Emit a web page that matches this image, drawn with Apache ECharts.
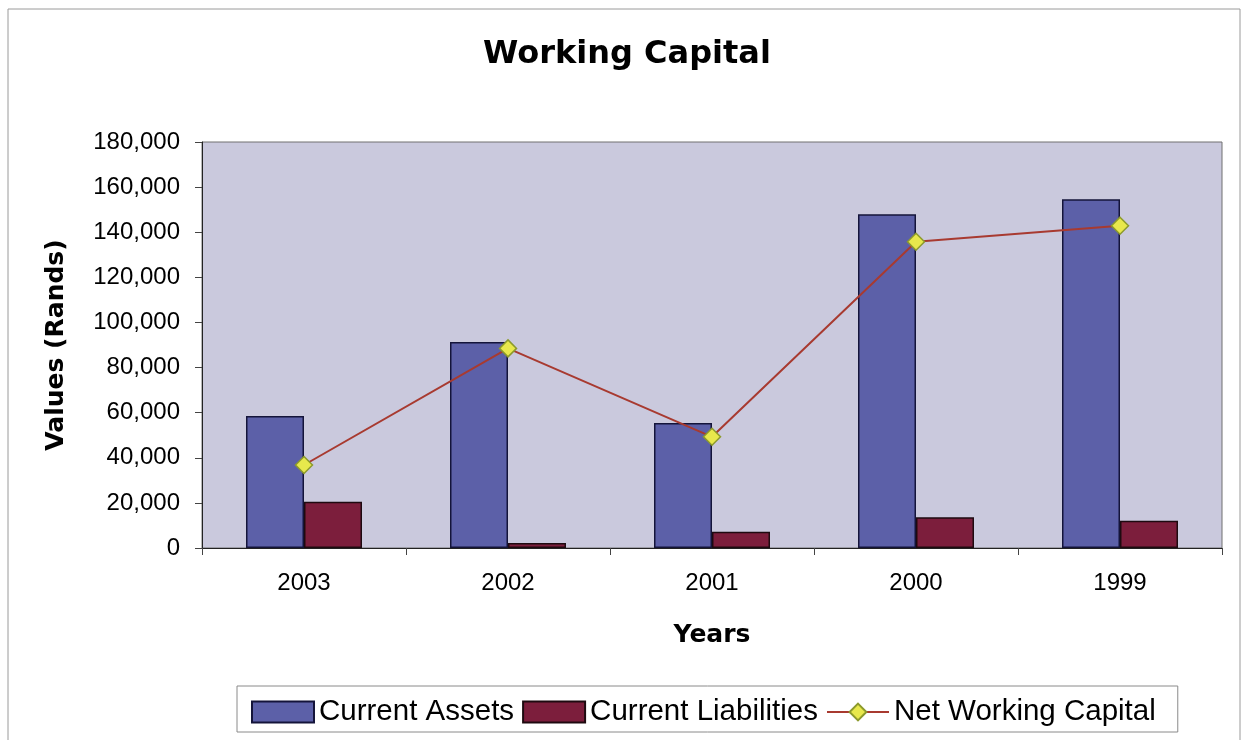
<!DOCTYPE html>
<html>
<head>
<meta charset="utf-8">
<title>Working Capital</title>
<script src="https://cdn.jsdelivr.net/npm/echarts@6/dist/echarts.min.js"></script>
<style>
  html, body { margin: 0; padding: 0; background: #ffffff; }
  #chart { width: 1246px; height: 740px; }
</style>
</head>
<body>
<div id="chart"></div>
<script>
// Financial years shown on the category axis
const years = ['2003', '2002', '2001', '2000', '1999'];

// Values in Rands
const currentAssets = [58500, 91300, 55400, 148000, 154600];
const currentLiabilities = [20500, 2200, 7200, 13600, 12100];
const netWorkingCapital = [36800, 88500, 49300, 135800, 142900];

// Value axis range
const yMin = 0;
const yMax = 180000;
const yStep = 20000;

const font = 'Arial, "Liberation Sans", Helvetica, sans-serif';
const wideBold = '"DejaVu Sans", Verdana, sans-serif';

const chart = echarts.init(document.getElementById('chart'), null, { renderer: 'canvas' });

chart.setOption({
  backgroundColor: '#ffffff',
  animation: false,
  textStyle: { fontFamily: font, color: '#000' },
  graphic: [{
    type: 'rect',
    shape: { x: 8, y: 9, width: 1232, height: 740 },
    style: { fill: 'none', stroke: '#9a9a9a', lineWidth: 1 },
    silent: true,
    z: -1
  }],
  title: {
    text: 'Working Capital',
    left: 622,
    top: 34,
    textAlign: 'center',
    textStyle: { fontFamily: wideBold, fontSize: 32, fontWeight: 'bold', color: '#000' }
  },
  legend: {
    left: 237,
    top: 686,
    padding: [11, 22, 5, 14],
    borderColor: '#8a8a8a',
    borderWidth: 1,
    itemWidth: 62,
    itemHeight: 21,
    itemGap: 8,
    textStyle: { fontFamily: font, fontSize: 29.5, color: '#000' },
    data: [
      { name: 'Current Assets', icon: 'rect' },
      { name: 'Current Liabilities', icon: 'rect' },
      { name: 'Net Working Capital' }
    ]
  },
  grid: {
    left: 202,
    right: 24,
    top: 142,
    bottom: 192,
    show: true,
    backgroundColor: '#cac9dd',
    borderColor: '#707070',
    borderWidth: 1
  },
  xAxis: {
    type: 'category',
    data: years,
    name: 'Years',
    nameLocation: 'middle',
    nameGap: 75,
    nameTextStyle: { fontFamily: wideBold, fontSize: 25, fontWeight: 'bold', color: '#000' },
    axisLine: { show: true, lineStyle: { color: '#222', width: 1 } },
    axisTick: { show: true, length: 7, inside: false, lineStyle: { color: '#444' } },
    axisLabel: { fontFamily: font, fontSize: 24, color: '#000', margin: 23 },
    splitLine: { show: false }
  },
  yAxis: {
    type: 'value',
    min: yMin,
    max: yMax,
    interval: yStep,
    name: 'Values (Rands)',
    nameLocation: 'middle',
    nameGap: 133,
    nameRotate: 90,
    nameTextStyle: { fontFamily: wideBold, fontSize: 25, fontWeight: 'bold', color: '#000' },
    axisLine: { show: true, lineStyle: { color: '#222', width: 1 } },
    axisTick: { show: true, length: 7, inside: false, lineStyle: { color: '#444' } },
    axisLabel: {
      fontFamily: font,
      fontSize: 24,
      color: '#000',
      margin: 22,
      formatter: v => v.toLocaleString('en-US')
    },
    splitLine: { show: false }
  },
  series: [
    {
      name: 'Current Assets',
      type: 'bar',
      data: currentAssets,
      barWidth: 58,
      barGap: '0%',
      itemStyle: { color: '#5c60a8', borderColor: '#14143a', borderWidth: 1.5 }
    },
    {
      name: 'Current Liabilities',
      type: 'bar',
      data: currentLiabilities,
      barWidth: 58,
      barGap: '0%',
      itemStyle: { color: '#7c1e3c', borderColor: '#1e0a10', borderWidth: 1.5 }
    },
    {
      name: 'Net Working Capital',
      type: 'line',
      data: netWorkingCapital,
      symbol: 'diamond',
      symbolSize: 17,
      z: 5,
      lineStyle: { color: '#a83a30', width: 2 },
      itemStyle: { color: '#e8e84c', borderColor: '#8c9a2c', borderWidth: 1.5 }
    }
  ]
});
</script>
</body>
</html>
